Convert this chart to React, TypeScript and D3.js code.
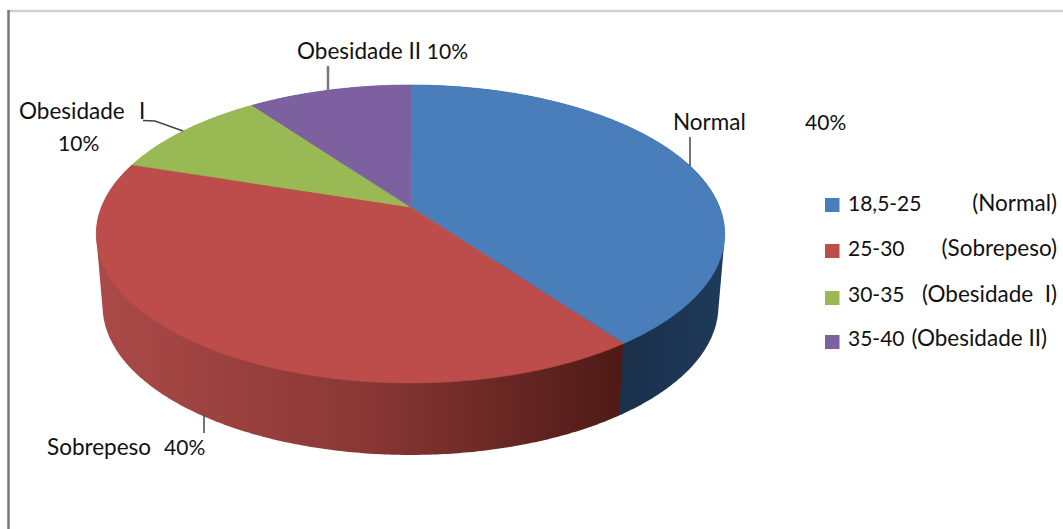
import React from "react";
import * as d3 from "d3";

// Distribution of patients by BMI band
const bands = ["18,5-25", "25-30", "30-35", "35-40"];
const classes = ["(Normal)", "(Sobrepeso)", "(Obesidade  I)", "(Obesidade II)"];
const shares = [40, 40, 10, 10];
const faceColors = ["#4a7ebb", "#bd4d4a", "#98b954", "#7d60a0"];
const wallColors = ["url(#wallBlue)", "url(#wallRed)", "#6f8a3c", "#5a4476"];

const legendRowBaselines = [211, 256, 302, 346];
const legendSwatchTops = [198, 244, 291, 335];
const legendClassX = [1057, 1057, 1057, 1047];

const W = 1063;
const H = 529;

// Perspective projection of the unit disc onto the page
const cx = 410.5;
const apexY = 207;
const tilt = 0.181;
const radiusX = 309;
const radiusY = 144.1;
const wallDrop = 72;
const wallShrink = 0.98;

function project(angle: number, drop = 0, shrink = 1): [number, number] {
  const u = Math.sin(angle);
  const v = -Math.cos(angle);
  const w = 1 - tilt * v;
  return [cx + (shrink * radiusX * u) / w, apexY + drop + (radiusY * v) / w];
}

const arcs = d3
  .pie<number>()
  .sort(null)
  .value((d) => d)(shares);

const line = d3.line();

function samples(a0: number, a1: number): number[] {
  const n = Math.max(2, Math.ceil((a1 - a0) / 0.01));
  return d3.range(n + 1).map((i) => a0 + ((a1 - a0) * i) / n);
}

function facePath(a0: number, a1: number): string {
  const rim = samples(a0, a1).map((a) => project(a));
  return (line([[cx, apexY], ...rim]) as string) + "Z";
}

// The hull closes the silhouette between the upper and lower rims at the disc's sides
function wallPath(a0: number, a1: number): string {
  const s = samples(a0, a1);
  const pts = [...s.map((a) => project(a)), ...s.map((a) => project(a, wallDrop, wallShrink))];
  const hull = d3.polygonHull(pts) as [number, number][];
  return (line(hull) as string) + "Z";
}

const fontFamily = "Lato, 'Noto Sans', sans-serif";
const wordSize = 22.5;
const numberSize = 21;

export default function App() {
  return (
    <svg
      width={W}
      height={H}
      viewBox={`0 0 ${W} ${H}`}
      style={{ position: "absolute", left: 0, top: 0, background: "#fff" }}
    >
      <defs>
        <linearGradient id="wallRed" gradientUnits="userSpaceOnUse" x1={96} x2={622} y1={0} y2={0}>
          <stop offset="0" stopColor="#ab4a48" />
          <stop offset="0.5" stopColor="#8a3836" />
          <stop offset="1" stopColor="#4e1a16" />
        </linearGradient>
        <linearGradient id="wallBlue" gradientUnits="userSpaceOnUse" x1={620} x2={725} y1={0} y2={0}>
          <stop offset="0" stopColor="#1a304b" />
          <stop offset="1" stopColor="#1f3a5a" />
        </linearGradient>
      </defs>

      {/* chart frame */}
      <line x1={8} x2={W} y1={11} y2={11} stroke="#d0d0d0" strokeWidth={2.5} />
      <line x1={8.5} x2={8.5} y1={10} y2={H} stroke="#777" strokeWidth={2.5} />

      {/* pie walls, then the top faces over them */}
      {[2, 3, 0, 1].map((i) => (
        <path key={`wall-${i}`} d={wallPath(arcs[i].startAngle, arcs[i].endAngle)} fill={wallColors[i]} />
      ))}
      {arcs.map((d, i) => (
        <path
          key={`face-${i}`}
          d={facePath(d.startAngle, d.endAngle)}
          fill={faceColors[i]}
          stroke={faceColors[i]}
          strokeWidth={0.6}
        />
      ))}

      {/* leader lines */}
      <g fill="none" stroke="#444" strokeWidth={1.5}>
        <path d={line([[690, 166], [690, 137]]) as string} />
        <path d={line([[143, 120.5], [155, 121], [183, 131]]) as string} />
        <path d={line([[204, 415], [204, 433]]) as string} />
        <path d={line([[328, 91], [328, 66]]) as string} stroke="#777" strokeWidth={2.5} />
      </g>

      {/* data labels */}
      <g fontFamily={fontFamily} fontSize={wordSize} fill="#111">
        <text x={673} y={130}>Normal</text>
        <text x={805} y={130} fontSize={numberSize}>{shares[0]}%</text>
        <text x={19} y={119}>Obesidade</text>
        <text x={139} y={119}>I</text>
        <text x={58} y={151} fontSize={numberSize}>{shares[2]}%</text>
        <text x={297} y={59}>
          Obesidade II <tspan fontSize={numberSize}>{shares[3]}%</tspan>
        </text>
        <text x={47} y={455}>Sobrepeso</text>
        <text x={164} y={455} fontSize={numberSize}>{shares[1]}%</text>
      </g>

      {/* legend */}
      <g fontFamily={fontFamily} fontSize={wordSize} fill="#111">
        {bands.map((b, i) => (
          <g key={b}>
            <rect x={825} y={legendSwatchTops[i]} width={14.5} height={14} fill={faceColors[i]} />
            <text x={848} y={legendRowBaselines[i]} fontSize={numberSize}>{b}</text>
            <text x={legendClassX[i]} y={legendRowBaselines[i]} textAnchor="end" style={{ whiteSpace: "pre" }}>
              {classes[i]}
            </text>
          </g>
        ))}
      </g>
    </svg>
  );
}
